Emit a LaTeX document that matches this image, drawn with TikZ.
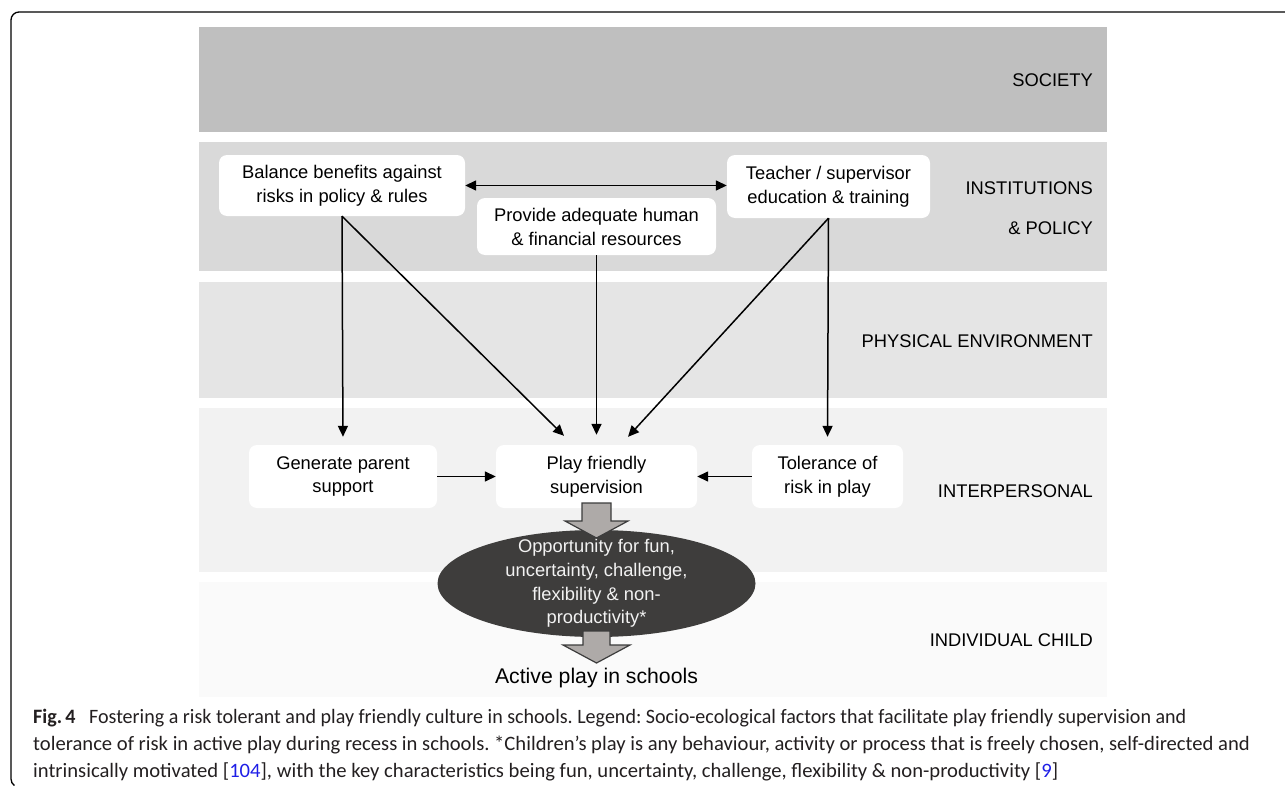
\documentclass[tikz,border=0pt]{standalone}
\usepackage{fontspec}
\usepackage{graphicx}
\setmainfont{Liberation Sans}
\newfontfamily\capfont[FakeStretch=1.01]{Carlito}
\usetikzlibrary{arrows.meta,calc,shapes.geometric}
\definecolor{societyc}{RGB}{191,191,191}
\definecolor{instc}{RGB}{217,217,217}
\definecolor{physc}{RGB}{229,229,229}
\definecolor{interc}{RGB}{242,242,242}
\definecolor{indivc}{RGB}{250,250,250}
\definecolor{ellc}{RGB}{62,61,60}
\definecolor{blkc}{RGB}{174,170,168}
\definecolor{blkline}{RGB}{60,60,60}
\definecolor{capc}{RGB}{35,31,32}
\definecolor{refc}{RGB}{30,30,230}
\frenchspacing
\begin{document}
\begin{tikzpicture}[x=1bp,y=-1bp,
  txt/.style={font=\fontsize{18.4}{24}\selectfont, text=black, align=center},
  box/.style={txt, fill=white, rounded corners=8bp, inner sep=0pt},
  lbl/.style={font=\fontsize{18.4}{22}\selectfont, anchor=east, inner sep=0pt},
  arr/.style={line width=1.5bp, -{Triangle[length=11bp,width=10bp]}},
  darr/.style={line width=1.5bp, {Triangle[length=11bp,width=10bp]}-{Triangle[length=11bp,width=10bp]}},
  blk/.style={fill=blkc, draw=blkline, line width=1.2bp, line join=miter},
  captxt/.style={font=\capfont\fontsize{20.5}{27}\selectfont, text=capc, anchor=base west, inner sep=0pt}
]
\useasboundingbox (0,0) rectangle (1285,789);
% frame
\draw[line width=1.3bp] (1285,12) -- (19,12) arc[start angle=270,end angle=180,radius=8] -- (11,779) arc[start angle=180,end angle=125,radius=8];
% bands
\fill[societyc] (199,27) rectangle (1107,132);
\fill[instc] (199,142) rectangle (1107,271);
\fill[physc] (199,282) rectangle (1107,398);
\fill[interc] (199,408) rectangle (1107,572);
\fill[indivc] (199,582) rectangle (1107,697);
% band labels
\node[lbl] (lsoc) at (1093,80) {SOCIETY};
\node[lbl] (linst) at (1093,188) {INSTITUTIONS};
\node[lbl] (lpol) at (1093,228) {\& POLICY};
\node[lbl] (lphys) at (1093,341) {PHYSICAL ENVIRONMENT};
\node[lbl] (linter) at (1093,491) {INTERPERSONAL};
\node[lbl] (lind) at (1093,640) {INDIVIDUAL CHILD};
% boxes
\node[box, minimum width=246bp, minimum height=61bp] (bal) at (342,185.5) {Balance benefits against\\risks in policy \& rules};
\node[box, minimum width=203bp, minimum height=63bp] (tea) at (828.5,186.5) {Teacher / supervisor\\education \& training};
\node[box, minimum width=239bp, minimum height=57bp] (pro) at (596.5,226.5) {Provide adequate human\\\& financial resources};
\node[box, minimum width=188bp, minimum height=63bp] (gen) at (343,476.5) {Generate parent\\support};
\node[box, minimum width=201bp, minimum height=63bp] (play) at (596.5,476.5) {Play friendly\\supervision};
\node[box, minimum width=151bp, minimum height=63bp] (tol) at (827.5,476.5) {Tolerance of\\risk in play};
% connector end points
\coordinate (pl) at ($(play.north)+(-32.5,-9)$);
\coordinate (pm) at ($(play.north)+(0,-10)$);
\coordinate (pr) at ($(play.north)+(31.5,-8)$);
% connectors
\draw[darr] (bal.east) -- (bal.east -| tea.west);
\draw[arr, shorten >=8bp] (bal.south) -- (gen.north);
\draw[arr] (bal.south) -- (pl);
\draw[arr] (pro.south) -- (pm);
\draw[arr] (tea.south) -- (pr);
\draw[arr, shorten >=8bp] (tea.south) -- (tol.north);
\draw[arr] (gen.east) -- (play.west);
\draw[arr] (tol.west) -- (play.east);
% ellipse
\node[ellipse, fill=ellc, minimum width=318bp, minimum height=107bp, inner sep=0pt] (oppshape) at (596.5,583.5) {};
\node[txt, text={rgb,255:red,242;green,242;blue,242}, font=\fontsize{18.4}{23.7}\selectfont] (opp) at (oppshape.center) {Opportunity for fun,\\uncertainty, challenge,\\flexibility \& non-\\productivity*};
% block arrows
\draw[blk] (582,503) -- (611,503) -- (611,521) -- (628,521) -- (596.5,538) -- (565,521) -- (582,521) -- cycle;
\draw[blk] (583,631) -- (610,631) -- (610,645) -- (630,645) -- (596.5,663) -- (563,645) -- (583,645) -- cycle;
\node[font=\fontsize{21.3}{24}\selectfont, inner sep=0pt] (active) at (596.5,678) {Active play in schools};
% caption
\node[captxt] (c1) at (33,723) {\scalebox{0.972}[1]{{\bfseries Fig.\,4}\hspace{0.45em} Fostering a risk tolerant and play friendly culture in schools. Legend: Socio-ecological factors that facilitate play friendly supervision and}};
\node[captxt] (c2) at (33,750) {tolerance of risk in active play during recess in schools. *Children’s play is any behaviour, activity or process that is freely chosen, self-directed and};
\node[captxt] (c3) at (33,777) {intrinsically motivated [\textcolor{refc}{104}], with the key characteristics being fun, uncertainty, challenge, flexibility \& non-productivity [\textcolor{refc}{9}]};
\end{tikzpicture}
\end{document}
